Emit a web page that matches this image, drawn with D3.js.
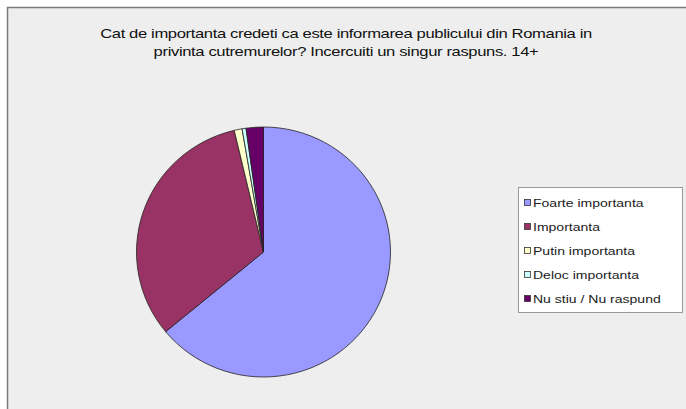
<!DOCTYPE html>
<html><head><meta charset="utf-8">
<script src="https://cdn.jsdelivr.net/npm/d3@7"></script>
<style>body{margin:0;background:#fff}svg{display:block}</style>
</head><body>
<svg id="c" width="686" height="409"></svg>
<script>
const titleLines = ["Cat de importanta credeti ca este informarea publicului din Romania in",
                    "privinta cutremurelor? Incercuiti un singur raspuns. 14+"];
const categories = ["Foarte importanta","Importanta","Putin importanta","Deloc importanta","Nu stiu / Nu raspund"];
const values = [64.0, 32.3, 1.0, 0.5, 2.2];
const colors = ["#9999FF","#993366","#FFFFCC","#CCFFFF","#660066"];

const svg = d3.select("#c");
svg.append("rect").attr("x",7.5).attr("y",7.5).attr("width",690).attr("height",420)
  .attr("fill","#EEEEEE").attr("stroke","#7a7a7a").attr("stroke-width",1.5);

const font = "Liberation Sans, Arial, sans-serif";
svg.append("g").attr("transform","translate(346,0) scale(1.23,1)")
  .selectAll("text").data(titleLines).join("text")
  .attr("x",0).attr("y",(d,i)=>38+i*18).attr("text-anchor","middle")
  .attr("font-family",font).attr("font-size",13.5)
  .attr("fill","#111").attr("letter-spacing",-0.3).text(d=>d);

const cx=263.5, cy=252, rx=127, ry=125;
const pie = d3.pie().sort(null).value(d=>d)(values);
const arc = d3.arc().innerRadius(0).outerRadius(rx);
svg.append("g").attr("transform",`translate(${cx},${cy}) scale(1,${ry/rx})`)
  .selectAll("path").data(pie).join("path")
  .attr("d",arc).attr("fill",(d,i)=>colors[i])
  .attr("stroke","#222").attr("stroke-width",0.8).attr("vector-effect","non-scaling-stroke");

const lg = svg.append("g");
lg.append("rect").attr("x",518.5).attr("y",187.5).attr("width",164).attr("height",125)
  .attr("fill","#fff").attr("stroke","#999");
const items = lg.selectAll("g.it").data(categories).join("g").attr("class","it")
  .attr("transform",(d,i)=>`translate(524,${203+i*24})`);
items.append("rect").attr("x",0.5).attr("y",-3.5).attr("width",6).attr("height",6)
  .attr("fill",(d,i)=>colors[i]).attr("stroke","#333").attr("stroke-width",0.8);
items.append("text").attr("transform","translate(9,4) scale(1.22,1)")
  .attr("font-family",font).attr("font-size",11.5).attr("fill","#222").text(d=>d);
</script>
</body></html>
